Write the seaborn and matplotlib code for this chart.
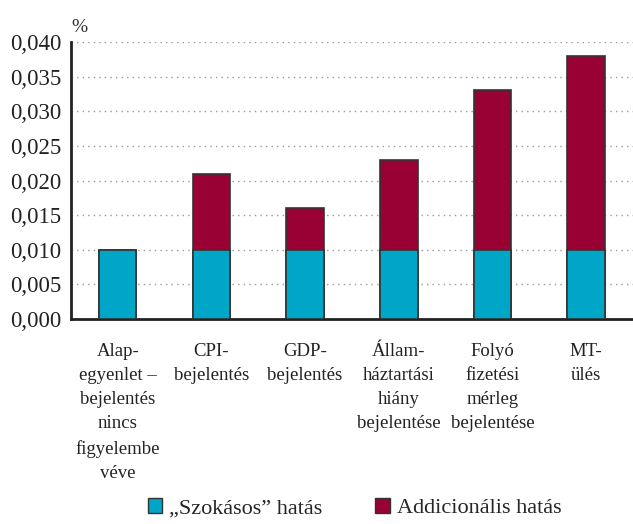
import matplotlib
matplotlib.use("Agg")
import matplotlib.pyplot as plt
from matplotlib.patches import Patch
import seaborn as sns
import pandas as pd

categories = ["Alap-\negyenlet –\nbejelentés\nnincs\nfigyelembe\nvéve",
              "CPI-\nbejelentés",
              "GDP-\nbejelentés",
              "Állam-\nháztartási\nhiány\nbejelentése",
              "Folyó\nfizetési\nmérleg\nbejelentése",
              "MT-\nülés"]
szokasos = [0.010, 0.010, 0.010, 0.010, 0.010, 0.010]
addicionalis = [0.000, 0.011, 0.006, 0.013, 0.023, 0.028]
y_ticks = [0.000, 0.005, 0.010, 0.015, 0.020, 0.025, 0.030, 0.035, 0.040]
series_names = ["„Szokásos” hatás", "Addicionális hatás"]

teal = "#00A6C8"
crimson = "#990033"
edge = "#333333"

sns.set_style("white")
plt.rcParams["font.family"] = ["Liberation Serif", "DejaVu Serif"]

df = pd.DataFrame({"cat": categories, "base": szokasos,
                   "total": [a + b for a, b in zip(szokasos, addicionalis)]})

fig = plt.figure(figsize=(6.33, 5.24), dpi=100)
ax = fig.add_axes([0.112, 0.391, 0.888, 0.529])

sns.barplot(data=df, x="cat", y="total", color=crimson, width=0.4,
            edgecolor=edge, linewidth=1.2, saturation=1, ax=ax, zorder=3)
sns.barplot(data=df, x="cat", y="base", color=teal, width=0.4,
            edgecolor=edge, linewidth=1.2, saturation=1, ax=ax, zorder=4)

ax.set_xlim(-0.5, len(categories) - 0.5)
ax.set_ylim(0, 0.040)
ax.set_yticks(y_ticks)
ax.set_yticklabels([f"{v:.3f}".replace(".", ",") for v in y_ticks], fontsize=16.5, color="#222222")
ax.set_xlabel("")
ax.set_ylabel("")

ax.set_xticks(range(len(categories)))
ax.set_xticklabels(categories, fontsize=13.5, linespacing=1.55, va="top", color="#222222")
ax.tick_params(axis="x", which="major", length=0, pad=17)
ax.set_xticks([i + 0.5 for i in range(len(categories) - 1)], minor=True)
ax.tick_params(axis="x", which="minor", length=5, width=2, color="#222222", direction="out")
ax.tick_params(axis="y", length=5, width=2, color="#222222", direction="out", pad=2)

for v in y_ticks[1:]:
    ax.axhline(v, color="#999999", linestyle=(0, (1, 3)), linewidth=1, zorder=1)

for s in ["top", "right"]:
    ax.spines[s].set_visible(False)
ax.spines["left"].set_linewidth(2)
ax.spines["left"].set_color("#222222")
ax.spines["bottom"].set_linewidth(2)
ax.spines["bottom"].set_color("#222222")

ax.text(0.015, 1.02, "%", transform=ax.transAxes, fontsize=14, ha="center", va="bottom", color="#333333")

handles = [Patch(facecolor=teal, edgecolor=edge, linewidth=1),
           Patch(facecolor=crimson, edgecolor=edge, linewidth=1)]
fig.legend(handles, series_names, loc="center", bbox_to_anchor=(0.56, 0.03), ncol=2,
           frameon=False, fontsize=16, handlelength=0.65, handleheight=0.65,
           handletextpad=0.3, columnspacing=2.4)

fig.savefig("out.png", dpi=100)
